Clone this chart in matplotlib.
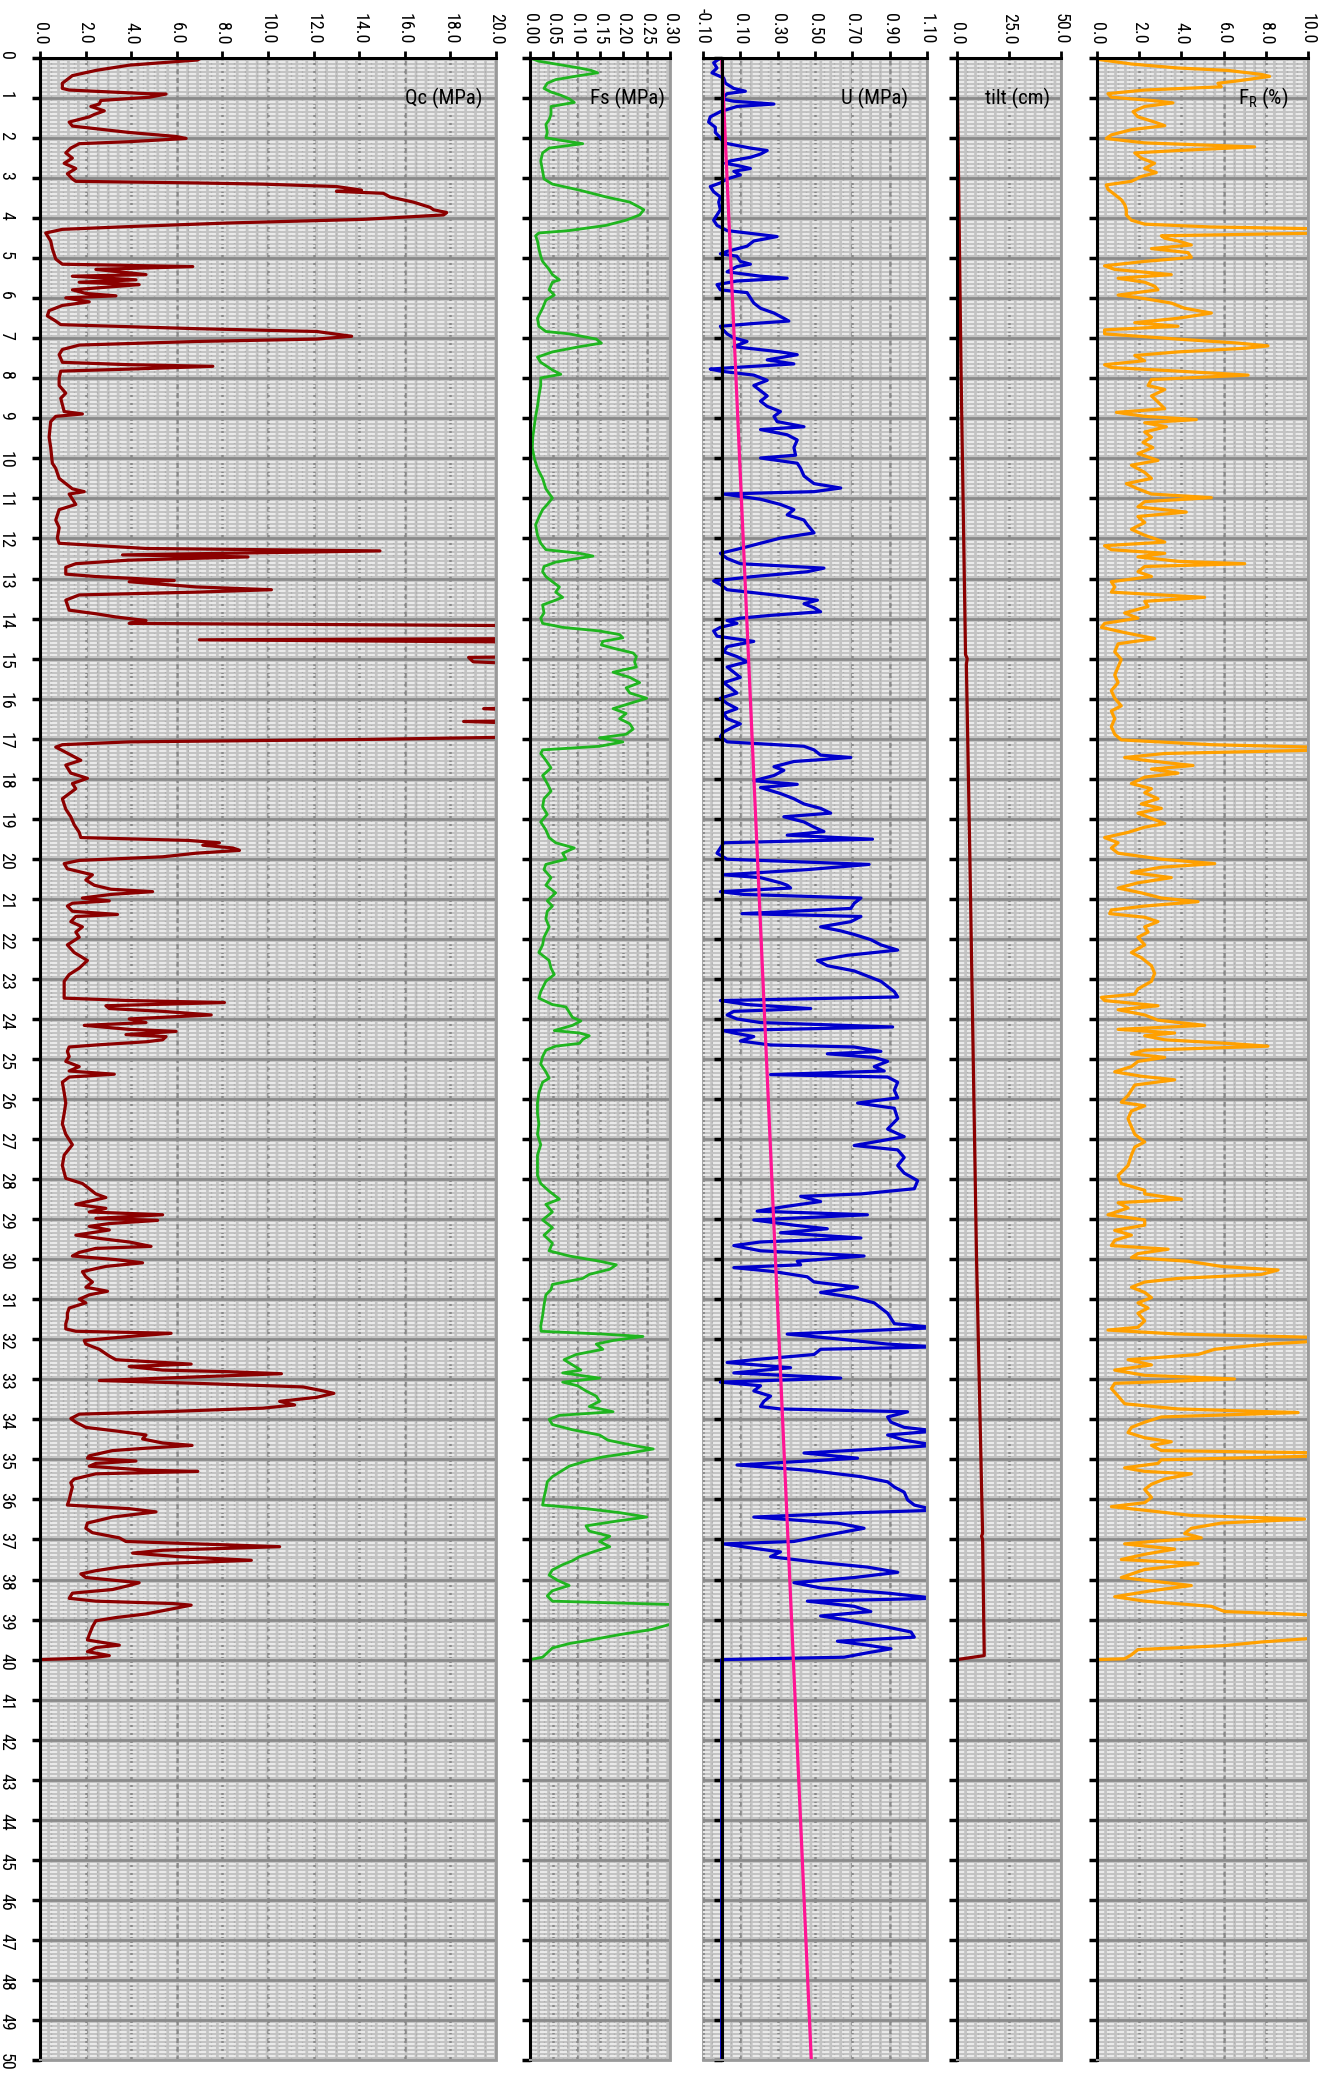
import matplotlib
matplotlib.use("Agg")
import matplotlib.pyplot as plt
import matplotlib.transforms as mtransforms
from matplotlib.ticker import FixedLocator, MultipleLocator

plt.rcParams['font.family'] = ['Roboto Condensed', 'Liberation Sans Narrow', 'Liberation Sans', 'DejaVu Sans']

# ---------------- data (depth m, value) ----------------
qc_readings = [
    (0.00, 7.07), (0.05, 6.9), (0.18, 3.9), (0.31, 2.45), (0.44, 1.42), (0.63, 0.98), (0.76, 0.98), (0.80, 1.28),
    (0.89, 4.65), (0.90, 5.53), (0.98, 4.79), (1.06, 2.67), (1.15, 2.60), (1.21, 2.23), (1.32, 2.82),
    (1.41, 2.38), (1.47, 2.16), (1.60, 1.28), (1.70, 1.42), (1.86, 3.91), (1.96, 5.97), (2.01, 6.41),
    (2.09, 3.91), (2.14, 1.72), (2.25, 1.35), (2.37, 1.13), (2.50, 1.42), (2.63, 1.06), (2.76, 1.57),
    (2.89, 1.20), (3.02, 1.42), (3.08, 1.57), (3.12, 6.85), (3.15, 9.78), (3.21, 13.0), (3.30, 14.1),
    (3.33, 13.0), (3.38, 15.06), (3.47, 15.35), (3.60, 16.38), (3.73, 17.11), (3.79, 17.26),
    (3.86, 17.84), (3.92, 17.70), (4.03, 14.18), (4.12, 8.31), (4.21, 3.91), (4.28, 0.98), (4.37, 0.25),
    (4.57, 0.47), (4.76, 0.54), (5.02, 0.69), (5.15, 0.98), (5.21, 6.70), (5.28, 2.45), (5.41, 4.65),
    (5.45, 1.42), (5.54, 4.21), (5.60, 1.72), (5.66, 4.35), (5.79, 1.42), (5.88, 2.01), (5.94, 3.33),
    (5.99, 1.13), (6.09, 2.16), (6.18, 0.98), (6.31, 0.40), (6.44, 0.32), (6.57, 0.69), (6.66, 0.91),
    (6.76, 6.85), (6.83, 12.13), (6.95, 13.67), (7.02, 12.13), (7.08, 6.85), (7.17, 1.72), (7.28, 0.98),
    (7.41, 0.84), (7.60, 0.98), (7.66, 3.91), (7.70, 7.58), (7.77, 3.91), (7.82, 0.91), (7.99, 0.84),
    (8.18, 0.84), (8.37, 1.13), (8.50, 0.91), (8.83, 1.06), (8.89, 1.86), (8.95, 0.69), (9.08, 0.47),
    (9.47, 0.40), (9.73, 0.47), (10.12, 0.54), (10.25, 0.69), (10.50, 0.84), (10.76, 1.42),
    (10.83, 1.94), (10.89, 1.28), (11.15, 1.57), (11.28, 0.84), (11.54, 0.69), (11.73, 0.84),
    (11.99, 0.76), (12.12, 0.84), (12.25, 4.65), (12.31, 14.91), (12.37, 8.31), (12.41, 3.62),
    (12.46, 9.12), (12.54, 3.91), (12.63, 1.57), (12.72, 1.13), (12.89, 1.13), (12.95, 2.45),
    (13.05, 5.89), (13.08, 3.91), (13.21, 6.85), (13.28, 10.15), (13.34, 6.85), (13.41, 1.72),
    (13.54, 1.13), (13.79, 1.28), (13.88, 2.45), (13.96, 3.33), (14.05, 4.65), (14.12, 3.91),
    (14.18, 22.0), (14.50, 22.0), (14.53, 6.99), (14.59, 22.0), (14.95, 22.0), (14.97, 18.8),
    (15.08, 19.0), (15.15, 22.0), (16.22, 22.0), (16.25, 19.46), (16.31, 22.0), (16.55, 22.0),
    (16.57, 18.58), (16.63, 22.0), (16.95, 22.0), (17.02, 14.18), (17.08, 3.91), (17.15, 0.98),
    (17.21, 0.69), (17.34, 1.13), (17.54, 1.79), (17.66, 1.13), (17.86, 1.35), (17.99, 2.08),
    (18.12, 1.42), (18.25, 1.57), (18.50, 0.98), (18.76, 1.13), (18.95, 1.35), (19.15, 1.50),
    (19.34, 1.72), (19.47, 1.79), (19.54, 6.48), (19.60, 7.87), (19.66, 7.14), (19.73, 8.46),
    (19.79, 8.75), (19.86, 6.85), (19.95, 5.38), (20.04, 1.72), (20.12, 1.06), (20.25, 1.20),
    (20.40, 2.30), (20.53, 2.01), (20.66, 2.38), (20.76, 3.11), (20.82, 4.94), (20.89, 3.11),
    (20.98, 1.86), (21.05, 3.04), (21.11, 1.42), (21.18, 1.20), (21.31, 1.42), (21.39, 3.40),
    (21.44, 1.57), (21.57, 1.35), (21.70, 1.86), (21.83, 1.57), (21.96, 1.72), (22.15, 1.20),
    (22.34, 1.50), (22.54, 2.08), (22.73, 1.72), (22.89, 1.28), (23.06, 1.06), (23.25, 1.06),
    (23.48, 1.06), (23.54, 3.91), (23.59, 8.09), (23.67, 2.89), (23.74, 3.04), (23.81, 5.38),
    (23.90, 7.51), (24.00, 3.91), (24.09, 4.65), (24.16, 1.94), (24.26, 3.91), (24.31, 5.97),
    (24.39, 3.77), (24.44, 5.53), (24.52, 5.38), (24.57, 4.65), (24.65, 2.45), (24.70, 1.28),
    (24.81, 1.20), (24.94, 1.28), (25.06, 1.13), (25.19, 1.72), (25.30, 1.28), (25.38, 3.26),
    (25.43, 1.86), (25.45, 1.28), (25.58, 0.98), (25.84, 1.06), (26.10, 1.13), (26.36, 1.06),
    (26.62, 0.98), (26.88, 1.13), (27.14, 1.42), (27.40, 1.06), (27.66, 0.98), (27.98, 1.13),
    (28.11, 1.86), (28.24, 2.16), (28.37, 2.45), (28.46, 2.89), (28.63, 1.57), (28.73, 2.89),
    (28.82, 2.16), (28.89, 5.38), (28.98, 2.45), (29.03, 5.16), (29.11, 3.04), (29.18, 2.16),
    (29.27, 3.04), (29.40, 1.57), (29.49, 2.74), (29.57, 3.91), (29.68, 4.87), (29.73, 2.45),
    (29.83, 1.72), (29.92, 1.42), (30.01, 3.33), (30.09, 4.50), (30.18, 2.89), (30.31, 1.86),
    (30.44, 2.01), (30.57, 2.30), (30.70, 2.01), (30.80, 2.96), (30.89, 2.16), (31.00, 1.72),
    (31.09, 2.01), (31.22, 1.28), (31.35, 1.20), (31.48, 1.20), (31.61, 1.13), (31.74, 1.13),
    (31.80, 1.57), (31.85, 5.75), (31.93, 3.91), (32.03, 1.94), (32.12, 2.01), (32.25, 2.60),
    (32.42, 3.04), (32.51, 3.33), (32.58, 5.38), (32.62, 6.63), (32.68, 3.91), (32.77, 5.38),
    (32.81, 8.31), (32.86, 10.59), (32.94, 6.85), (33.03, 2.60), (33.10, 6.85), (33.19, 11.54),
    (33.29, 12.42), (33.35, 12.89), (33.45, 12.13), (33.55, 10.51), (33.64, 11.17), (33.72, 9.78),
    (33.81, 5.38), (33.87, 1.72), (33.98, 1.35), (34.07, 1.57), (34.20, 2.01), (34.29, 3.33),
    (34.39, 4.65), (34.49, 4.50), (34.59, 5.38), (34.65, 6.67), (34.72, 4.65), (34.78, 3.18),
    (34.91, 2.16), (34.97, 2.08), (35.04, 4.21), (35.10, 2.45), (35.17, 2.16), (35.27, 4.65),
    (35.30, 6.92), (35.36, 2.45), (35.49, 1.50), (35.58, 1.35), (35.69, 1.42), (35.84, 1.35),
    (36.01, 1.28), (36.14, 1.20), (36.23, 3.91), (36.31, 5.09), (36.44, 3.18), (36.59, 2.08),
    (36.72, 2.01), (36.83, 2.30), (36.96, 3.48), (37.05, 3.77), (37.11, 6.85), (37.18, 10.51),
    (37.27, 5.38), (37.34, 4.06), (37.43, 6.11), (37.52, 9.27), (37.60, 5.38), (37.69, 3.48),
    (37.78, 2.45), (37.86, 1.79), (37.95, 2.01), (38.08, 4.35), (38.15, 3.91), (38.25, 3.18),
    (38.34, 1.42), (38.47, 1.28), (38.54, 2.45), (38.60, 5.82), (38.64, 6.63), (38.73, 5.82),
    (38.86, 4.65), (38.95, 3.33), (39.03, 2.45), (39.18, 2.30), (39.38, 2.16), (39.51, 2.08),
    (39.64, 3.48), (39.70, 2.45), (39.80, 2.08), (39.90, 3.04), (39.96, 2.16), (40.00, 0.0), (50.0, 0.0),
]

fs_readings = [
    (0.00, 0.0), (0.08, 0.019), (0.15, 0.055), (0.25, 0.106), (0.31, 0.131), (0.37, 0.145),
    (0.44, 0.106), (0.54, 0.055), (0.63, 0.037), (0.76, 0.030), (0.85, 0.045), (0.93, 0.066),
    (1.02, 0.084), (1.11, 0.095), (1.21, 0.045), (1.41, 0.045), (1.54, 0.041), (1.66, 0.034),
    (1.86, 0.037), (1.99, 0.034), (2.05, 0.063), (2.14, 0.113), (2.25, 0.041), (2.37, 0.027),
    (2.57, 0.023), (2.83, 0.027), (3.02, 0.030), (3.15, 0.048), (3.30, 0.106), (3.47, 0.163),
    (3.60, 0.214), (3.73, 0.235), (3.79, 0.244), (3.92, 0.235), (4.05, 0.206), (4.18, 0.163),
    (4.31, 0.084), (4.37, 0.019), (4.44, 0.012), (4.57, 0.016), (4.76, 0.019), (4.95, 0.023),
    (5.08, 0.027), (5.28, 0.041), (5.41, 0.048), (5.54, 0.063), (5.60, 0.048), (5.79, 0.041),
    (5.92, 0.052), (6.05, 0.034), (6.25, 0.027), (6.50, 0.016), (6.70, 0.019), (6.83, 0.034),
    (6.89, 0.084), (7.02, 0.142), (7.12, 0.153), (7.21, 0.106), (7.34, 0.048), (7.47, 0.016),
    (7.60, 0.023), (7.79, 0.048), (7.90, 0.066), (7.99, 0.023), (8.18, 0.023), (8.44, 0.019),
    (8.70, 0.016), (8.95, 0.012), (9.21, 0.009), (9.47, 0.006), (9.73, 0.005), (9.99, 0.009),
    (10.25, 0.016), (10.50, 0.027), (10.76, 0.034), (10.99, 0.048), (11.15, 0.037), (11.28, 0.027),
    (11.47, 0.019), (11.66, 0.012), (11.92, 0.016), (12.12, 0.023), (12.28, 0.034), (12.37, 0.106),
    (12.44, 0.135), (12.50, 0.102), (12.59, 0.055), (12.70, 0.030), (12.83, 0.027), (12.95, 0.034),
    (13.08, 0.048), (13.21, 0.063), (13.34, 0.055), (13.47, 0.070), (13.57, 0.048), (13.66, 0.027),
    (13.86, 0.030), (13.99, 0.023), (14.12, 0.027), (14.22, 0.070), (14.31, 0.149), (14.40, 0.192),
    (14.48, 0.199), (14.57, 0.156), (14.66, 0.153), (14.76, 0.185), (14.86, 0.221), (14.95, 0.228),
    (15.08, 0.224), (15.21, 0.228), (15.34, 0.178), (15.47, 0.214), (15.60, 0.235), (15.73, 0.206),
    (15.86, 0.214), (15.99, 0.250), (16.12, 0.214), (16.25, 0.178), (16.37, 0.206), (16.50, 0.192),
    (16.63, 0.214), (16.76, 0.221), (16.89, 0.206), (16.98, 0.149), (17.08, 0.199), (17.19, 0.149),
    (17.28, 0.027), (17.37, 0.023), (17.54, 0.034), (17.73, 0.045), (17.92, 0.027), (18.12, 0.037),
    (18.31, 0.045), (18.50, 0.030), (18.70, 0.027), (18.89, 0.037), (19.08, 0.023), (19.28, 0.034),
    (19.47, 0.041), (19.60, 0.055), (19.73, 0.095), (19.86, 0.070), (20.01, 0.077), (20.14, 0.034),
    (20.27, 0.030), (20.47, 0.045), (20.66, 0.034), (20.85, 0.055), (21.05, 0.037), (21.18, 0.048),
    (21.31, 0.037), (21.50, 0.034), (21.70, 0.041), (21.96, 0.030), (22.15, 0.027), (22.34, 0.019),
    (22.54, 0.041), (22.73, 0.045), (22.89, 0.052), (23.06, 0.034), (23.32, 0.023), (23.48, 0.019),
    (23.64, 0.048), (23.70, 0.077), (23.83, 0.084), (23.96, 0.091), (24.05, 0.109), (24.16, 0.091),
    (24.29, 0.052), (24.35, 0.106), (24.42, 0.127), (24.51, 0.113), (24.61, 0.106), (24.68, 0.055),
    (24.78, 0.034), (24.94, 0.027), (25.13, 0.023), (25.32, 0.034), (25.48, 0.041), (25.58, 0.027),
    (25.84, 0.019), (26.10, 0.016), (26.36, 0.016), (26.62, 0.019), (26.88, 0.016), (27.14, 0.023),
    (27.40, 0.016), (27.66, 0.016), (27.91, 0.016), (28.11, 0.023), (28.30, 0.041), (28.50, 0.063),
    (28.63, 0.034), (28.82, 0.048), (29.02, 0.027), (29.21, 0.048), (29.40, 0.030), (29.60, 0.048),
    (29.79, 0.041), (29.92, 0.084), (30.05, 0.149), (30.14, 0.185), (30.25, 0.171), (30.38, 0.127),
    (30.48, 0.113), (30.63, 0.048), (30.76, 0.045), (30.89, 0.034), (31.15, 0.030), (31.41, 0.027),
    (31.67, 0.023), (31.80, 0.024), (31.87, 0.156), (31.93, 0.242), (32.03, 0.178), (32.12, 0.142),
    (32.25, 0.156), (32.38, 0.099), (32.51, 0.073), (32.64, 0.091), (32.77, 0.109), (32.84, 0.070),
    (32.97, 0.149), (33.07, 0.070), (33.16, 0.102), (33.29, 0.120), (33.42, 0.142), (33.55, 0.149),
    (33.68, 0.127), (33.81, 0.178), (33.90, 0.063), (34.00, 0.041), (34.13, 0.048), (34.26, 0.091),
    (34.39, 0.149), (34.52, 0.167), (34.65, 0.221), (34.74, 0.264), (34.84, 0.214), (34.94, 0.156),
    (35.04, 0.120), (35.17, 0.084), (35.30, 0.066), (35.43, 0.048), (35.56, 0.037), (35.75, 0.034),
    (35.95, 0.030), (36.14, 0.027), (36.23, 0.120), (36.33, 0.192), (36.44, 0.250), (36.53, 0.192),
    (36.66, 0.120), (36.79, 0.127), (36.92, 0.171), (37.05, 0.149), (37.18, 0.171), (37.31, 0.135),
    (37.43, 0.106), (37.53, 0.091), (37.63, 0.070), (37.76, 0.048), (37.89, 0.041), (38.02, 0.059),
    (38.15, 0.084), (38.28, 0.048), (38.41, 0.037), (38.54, 0.048), (38.64, 0.35), (38.80, 0.36),
    (39.06, 0.34), (39.12, 0.30), (39.25, 0.26), (39.38, 0.19), (39.51, 0.13), (39.60, 0.084),
    (39.71, 0.048), (39.94, 0.027), (40.00, 0.0), (50.0, 0.0),
]

u_readings = [
    (0.00, -0.007), (0.12, -0.043), (0.25, -0.025), (0.37, -0.052), (0.50, 0.011), (0.63, 0.020),
    (0.76, 0.065), (0.83, 0.127), (0.89, 0.029), (1.02, 0.002), (1.08, 0.065), (1.15, 0.280),
    (1.21, 0.082), (1.34, -0.007), (1.47, -0.061), (1.60, -0.070), (1.73, -0.034), (1.86, -0.034),
    (1.99, -0.007), (2.12, 0.011), (2.25, 0.154), (2.31, 0.244), (2.40, 0.208), (2.48, 0.154),
    (2.57, 0.047), (2.63, 0.020), (2.70, 0.100), (2.76, 0.154), (2.83, 0.065), (2.92, 0.100),
    (3.02, 0.029), (3.12, -0.007), (3.21, -0.061), (3.34, -0.043), (3.47, -0.007), (3.60, -0.016),
    (3.79, -0.007), (3.92, -0.025), (4.05, -0.043), (4.18, -0.025), (4.31, 0.029), (4.41, 0.208),
    (4.46, 0.297), (4.57, 0.172), (4.70, 0.136), (4.83, 0.029), (4.89, -0.007), (4.95, 0.082),
    (5.08, 0.100), (5.15, 0.154), (5.21, 0.082), (5.34, 0.029), (5.45, 0.208), (5.50, 0.351),
    (5.57, 0.082), (5.66, -0.025), (5.79, -0.007), (5.86, 0.136), (5.99, 0.154), (6.12, 0.172),
    (6.25, 0.208), (6.37, 0.280), (6.50, 0.333), (6.57, 0.360), (6.63, 0.172), (6.70, -0.007),
    (6.76, 0.002), (6.89, 0.029), (6.99, 0.065), (7.08, 0.136), (7.21, 0.065), (7.34, 0.315),
    (7.41, 0.405), (7.54, 0.244), (7.64, 0.387), (7.73, 0.065), (7.77, -0.061), (7.82, -0.007),
    (7.92, 0.172), (8.05, 0.244), (8.18, 0.172), (8.31, 0.208), (8.44, 0.244), (8.57, 0.208),
    (8.70, 0.244), (8.83, 0.315), (8.95, 0.280), (9.08, 0.297), (9.21, 0.441), (9.28, 0.208),
    (9.41, 0.351), (9.54, 0.405), (9.73, 0.387), (9.92, 0.396), (9.99, 0.208), (10.12, 0.405),
    (10.25, 0.423), (10.44, 0.441), (10.63, 0.495), (10.74, 0.638), (10.83, 0.495), (10.89, 0.011),
    (11.02, 0.208), (11.15, 0.315), (11.28, 0.387), (11.41, 0.351), (11.54, 0.441), (11.66, 0.459),
    (11.86, 0.495), (11.99, 0.315), (12.12, 0.208), (12.25, 0.100), (12.37, -0.007), (12.50, 0.029),
    (12.63, 0.100), (12.74, 0.548), (12.83, 0.459), (12.95, 0.172), (13.06, -0.043), (13.15, -0.007),
    (13.28, 0.029), (13.41, 0.280), (13.54, 0.513), (13.63, 0.441), (13.73, 0.495), (13.83, 0.530),
    (13.92, 0.262), (13.99, 0.100), (14.05, 0.029), (14.12, 0.082), (14.22, -0.007), (14.31, -0.043),
    (14.44, -0.025), (14.57, 0.172), (14.70, 0.029), (14.83, 0.011), (14.95, 0.082), (15.08, 0.136),
    (15.21, 0.029), (15.34, 0.065), (15.47, 0.100), (15.60, 0.011), (15.73, 0.047), (15.86, 0.082),
    (15.99, -0.007), (16.12, 0.029), (16.25, 0.082), (16.37, 0.011), (16.50, 0.029), (16.63, 0.100),
    (16.70, 0.065), (16.83, 0.011), (16.95, -0.007), (17.08, 0.029), (17.19, 0.441), (17.28, 0.495),
    (17.41, 0.530), (17.47, 0.692), (17.57, 0.387), (17.70, 0.280), (17.79, 0.333), (17.92, 0.280),
    (18.05, 0.172), (18.14, 0.405), (18.22, 0.208), (18.37, 0.315), (18.50, 0.387), (18.63, 0.441),
    (18.74, 0.530), (18.86, 0.584), (18.95, 0.333), (19.08, 0.441), (19.21, 0.495), (19.32, 0.548),
    (19.41, 0.351), (19.51, 0.808), (19.60, 0.011), (19.73, -0.007), (19.86, -0.025), (20.01, 0.029),
    (20.14, 0.790), (20.27, 0.459), (20.40, 0.011), (20.47, 0.208), (20.60, 0.315), (20.66, 0.351),
    (20.73, 0.369), (20.82, -0.007), (20.89, 0.118), (20.98, 0.746), (21.11, 0.710), (21.24, 0.692),
    (21.37, 0.109), (21.44, 0.746), (21.57, 0.692), (21.70, 0.530), (21.80, 0.638), (21.89, 0.710),
    (22.02, 0.799), (22.15, 0.853), (22.28, 0.943), (22.41, 0.674), (22.54, 0.513), (22.67, 0.566),
    (22.80, 0.710), (22.93, 0.781), (23.06, 0.853), (23.19, 0.889), (23.32, 0.925), (23.45, 0.943),
    (23.54, -0.007), (23.64, 0.136), (23.74, 0.477), (23.81, 0.065), (23.90, 0.029), (24.00, 0.082),
    (24.09, 0.208), (24.20, 0.916), (24.29, 0.011), (24.35, 0.065), (24.44, 0.172), (24.55, 0.100),
    (24.65, 0.262), (24.70, 0.710), (24.81, 0.853), (24.87, 0.566), (24.96, 0.817), (25.06, 0.889),
    (25.19, 0.817), (25.30, 0.871), (25.39, 0.262), (25.45, 0.889), (25.58, 0.943), (25.78, 0.925),
    (25.97, 0.943), (26.10, 0.728), (26.23, 0.925), (26.49, 0.943), (26.75, 0.889), (26.94, 0.978),
    (27.16, 0.710), (27.27, 0.943), (27.46, 0.978), (27.66, 0.943), (27.85, 0.978), (28.04, 1.050),
    (28.24, 1.032), (28.37, 0.746), (28.43, 0.423), (28.56, 0.530), (28.69, 0.333), (28.80, 0.190),
    (28.89, 0.781), (29.02, 0.172), (29.15, 0.387), (29.24, 0.566), (29.34, 0.315), (29.47, 0.746),
    (29.57, 0.208), (29.66, 0.065), (29.79, 0.208), (29.92, 0.763), (30.05, 0.405), (30.14, 0.423),
    (30.21, 0.065), (30.31, 0.280), (30.44, 0.459), (30.57, 0.495), (30.70, 0.728), (30.83, 0.530),
    (30.96, 0.710), (31.09, 0.817), (31.22, 0.853), (31.35, 0.889), (31.48, 0.907), (31.61, 0.925),
    (31.71, 1.15), (31.77, 0.853), (31.87, 0.351), (31.99, 0.620), (32.12, 0.889), (32.19, 1.15),
    (32.25, 0.530), (32.38, 0.495), (32.51, 0.172), (32.58, 0.029), (32.71, 0.369), (32.84, 0.065),
    (32.97, 0.638), (33.07, -0.007), (33.16, 0.208), (33.29, 0.172), (33.42, 0.262), (33.55, 0.226),
    (33.68, 0.208), (33.74, 0.315), (33.81, 0.996), (33.94, 0.889), (34.07, 0.907), (34.20, 0.978),
    (34.29, 1.15), (34.39, 0.889), (34.52, 0.978), (34.65, 1.15), (34.75, 0.799), (34.84, 0.441),
    (34.97, 0.728), (35.14, 0.082), (35.27, 0.459), (35.43, 0.746), (35.56, 0.889), (35.69, 0.925),
    (35.82, 0.978), (36.01, 0.996), (36.14, 1.032), (36.27, 1.15), (36.33, 0.728), (36.44, 0.172),
    (36.59, 0.620), (36.72, 0.763), (36.92, 0.530), (37.05, 0.387), (37.11, 0.011), (37.22, 0.172),
    (37.31, 0.315), (37.43, 0.262), (37.56, 0.495), (37.69, 0.781), (37.82, 0.943), (37.95, 0.710),
    (38.08, 0.387), (38.21, 0.530), (38.34, 0.889), (38.47, 1.15), (38.54, 0.459), (38.67, 0.710),
    (38.80, 0.799), (38.91, 0.530), (39.04, 0.710), (39.19, 0.889), (39.31, 1.014), (39.44, 1.032),
    (39.54, 0.620), (39.64, 0.781), (39.73, 0.907), (39.83, 0.781), (39.94, 0.656), (40.00, 0.0),
    (50.0, 0.0),
]

u0_depth = [0.0, 50.0]
u0_value = [0.0, 0.48]

tilt_depth = [0.0, 8.0, 14.9, 15.0, 15.15, 20.0, 30.0, 36.85, 36.92, 37.0, 39.9, 40.0, 50.0]
tilt_value = [0.0, 2.0, 4.1, 4.9, 4.5, 6.2, 9.4, 12.3, 11.8, 12.3, 13.1, 0.0, 0.0]

fr_readings = [
    (0.03, 0.0), (0.08, 0.68), (0.15, 1.63), (0.25, 3.84), (0.31, 6.21), (0.41, 7.79), (0.46, 8.18),
    (0.57, 6.68), (0.63, 5.73), (0.72, 5.89), (0.80, 2.26), (0.89, 0.52), (0.98, 0.68), (1.06, 2.58),
    (1.12, 3.60), (1.21, 2.26), (1.34, 1.71), (1.47, 1.94), (1.60, 2.73), (1.69, 3.21), (1.79, 1.63),
    (1.92, 0.68), (2.01, 0.44), (2.12, 2.26), (2.18, 5.42), (2.22, 7.47), (2.31, 3.84), (2.37, 1.79),
    (2.50, 2.10), (2.63, 2.73), (2.76, 2.26), (2.86, 2.81), (2.96, 2.10), (3.08, 1.63), (3.17, 0.44),
    (3.28, 0.52), (3.41, 0.84), (3.54, 1.15), (3.66, 1.31), (3.79, 1.39), (3.92, 1.39), (4.05, 1.63),
    (4.15, 2.26), (4.22, 5.42), (4.27, 11.0), (4.37, 11.0), (4.44, 3.05), (4.50, 3.21), (4.57, 3.84),
    (4.67, 4.47), (4.76, 2.58), (4.86, 4.31), (4.98, 4.47), (5.08, 2.26), (5.19, 0.36), (5.28, 0.84),
    (5.41, 3.52), (5.50, 1.00), (5.60, 2.26), (5.70, 2.73), (5.79, 2.89), (5.92, 1.00), (6.01, 2.26),
    (6.12, 3.52), (6.25, 4.15), (6.37, 5.42), (6.50, 3.84), (6.61, 1.79), (6.70, 3.84), (6.79, 0.36),
    (6.89, 0.36), (7.02, 3.84), (7.12, 6.68), (7.19, 8.10), (7.25, 7.00), (7.34, 3.84), (7.43, 1.79),
    (7.56, 2.26), (7.66, 0.36), (7.73, 0.68), (7.82, 3.84), (7.92, 7.16), (8.03, 2.58), (8.18, 2.42),
    (8.28, 3.21), (8.44, 2.58), (8.59, 2.89), (8.76, 3.21), (8.85, 0.92), (8.95, 2.26), (9.03, 4.71),
    (9.11, 2.26), (9.21, 3.29), (9.34, 2.26), (9.47, 2.58), (9.60, 2.18), (9.73, 2.65), (9.88, 1.94),
    (10.05, 2.89), (10.17, 1.63), (10.35, 2.26), (10.50, 2.58), (10.63, 1.39), (10.76, 1.94),
    (10.89, 2.58), (10.98, 5.42), (11.08, 2.26), (11.21, 1.94), (11.34, 4.23), (11.45, 1.94),
    (11.60, 2.26), (11.77, 1.63), (11.92, 2.26), (12.09, 3.21), (12.18, 0.36), (12.28, 0.68),
    (12.37, 3.21), (12.46, 1.94), (12.57, 3.84), (12.63, 7.00), (12.70, 2.26), (12.83, 1.94),
    (12.95, 2.58), (13.08, 0.68), (13.21, 0.84), (13.34, 0.68), (13.47, 5.10), (13.57, 2.26),
    (13.70, 2.42), (13.86, 1.31), (13.99, 1.94), (14.12, 0.36), (14.22, 0.21), (14.35, 1.31),
    (14.50, 2.73), (14.63, 1.00), (14.83, 0.84), (15.02, 1.15), (15.21, 1.00), (15.41, 0.84),
    (15.60, 1.00), (15.80, 0.68), (15.99, 0.84), (16.18, 1.15), (16.31, 0.68), (16.50, 0.84),
    (16.70, 0.68), (16.89, 0.84), (17.03, 1.15), (17.15, 5.42), (17.22, 11.0), (17.28, 11.0),
    (17.37, 3.21), (17.47, 1.31), (17.54, 2.26), (17.67, 4.55), (17.76, 2.58), (17.86, 3.84),
    (17.96, 2.26), (18.12, 1.63), (18.25, 2.58), (18.35, 2.26), (18.50, 2.89), (18.63, 2.10),
    (18.74, 3.05), (18.86, 1.94), (18.99, 2.58), (19.12, 3.21), (19.21, 2.26), (19.34, 1.47),
    (19.47, 0.36), (19.60, 1.00), (19.73, 0.68), (19.86, 1.00), (20.01, 3.05), (20.12, 5.58),
    (20.21, 3.05), (20.34, 1.63), (20.47, 3.52), (20.60, 1.94), (20.73, 1.00), (20.85, 2.10),
    (20.98, 3.05), (21.07, 4.79), (21.18, 2.26), (21.28, 0.68), (21.37, 0.60), (21.46, 2.26),
    (21.57, 2.89), (21.70, 2.26), (21.83, 2.42), (21.96, 1.94), (22.15, 2.26), (22.34, 1.63),
    (22.47, 2.10), (22.67, 2.58), (22.86, 2.73), (23.06, 2.58), (23.25, 1.94), (23.38, 1.79),
    (23.46, 0.21), (23.54, 0.36), (23.67, 2.89), (23.77, 1.00), (23.90, 2.26), (24.03, 2.89),
    (24.16, 5.10), (24.26, 1.00), (24.35, 3.68), (24.42, 2.26), (24.52, 3.21), (24.61, 6.21),
    (24.68, 8.10), (24.78, 2.26), (24.87, 1.63), (24.96, 3.21), (25.06, 1.94), (25.19, 1.63),
    (25.32, 0.84), (25.43, 2.10), (25.52, 3.68), (25.65, 1.79), (25.78, 1.63), (25.91, 1.47),
    (26.08, 1.15), (26.17, 2.26), (26.30, 1.63), (26.49, 1.47), (26.69, 1.63), (26.88, 1.79),
    (27.07, 2.26), (27.20, 1.79), (27.40, 1.63), (27.66, 1.47), (27.91, 1.00), (28.11, 1.15),
    (28.28, 2.26), (28.37, 2.26), (28.50, 4.00), (28.59, 1.00), (28.72, 1.47), (28.89, 0.52),
    (29.02, 2.26), (29.15, 2.26), (29.28, 0.84), (29.40, 1.63), (29.53, 0.84), (29.66, 0.68),
    (29.75, 3.37), (29.86, 1.94), (29.96, 1.63), (30.05, 4.31), (30.18, 5.89), (30.27, 8.58),
    (30.38, 7.79), (30.48, 3.84), (30.57, 2.26), (30.70, 1.63), (30.83, 2.26), (30.96, 2.58),
    (31.09, 1.94), (31.22, 2.42), (31.35, 1.94), (31.54, 2.26), (31.70, 1.94), (31.77, 0.52),
    (31.87, 3.84), (31.96, 11.0), (32.03, 11.0), (32.12, 8.10), (32.25, 5.58), (32.38, 4.79),
    (32.51, 1.47), (32.64, 2.58), (32.77, 0.84), (32.90, 2.26), (32.99, 6.52), (33.10, 0.84),
    (33.23, 0.68), (33.42, 1.00), (33.61, 1.31), (33.74, 3.84), (33.83, 9.53), (33.94, 3.05),
    (34.07, 2.26), (34.20, 1.63), (34.33, 1.47), (34.46, 2.26), (34.56, 3.52), (34.65, 2.58),
    (34.78, 3.05), (34.84, 11.0), (34.91, 11.0), (35.01, 3.05), (35.10, 2.89), (35.21, 1.31),
    (35.30, 2.26), (35.36, 4.47), (35.49, 3.21), (35.62, 2.58), (35.75, 2.26), (35.95, 2.58),
    (36.08, 2.26), (36.18, 0.68), (36.27, 2.26), (36.40, 4.47), (36.49, 9.84), (36.59, 5.89),
    (36.72, 4.47), (36.85, 4.15), (36.96, 4.94), (37.05, 2.58), (37.11, 1.31), (37.24, 3.68),
    (37.37, 2.26), (37.50, 1.15), (37.60, 4.79), (37.75, 2.26), (37.95, 1.15), (38.15, 4.47),
    (38.28, 2.58), (38.43, 0.84), (38.54, 2.26), (38.67, 5.42), (38.80, 6.05), (38.90, 11.0),
    (39.44, 11.0), (39.56, 7.79), (39.65, 6.05), (39.75, 1.94), (39.88, 1.63), (39.98, 1.31),
    (40.00, 0.0), (50.0, 0.0),
]

qc_ticks = [0, 2, 4, 6, 8, 10, 12, 14, 16, 18, 20]
fs_ticks = [0.0, 0.05, 0.10, 0.15, 0.20, 0.25, 0.30]
u_ticks = [-0.1, 0.1, 0.3, 0.5, 0.7, 0.9, 1.1]
tilt_ticks = [0, 25, 50]
fr_ticks = [0, 2, 4, 6, 8, 10]
depth_ticks = list(range(0, 51))

# ---------------- figure ----------------
W, H = 1319, 2092
fig = plt.figure(figsize=(W / 100, H / 100), dpi=100)
TOP, BOT = 58, 2060


def make_ax(x0, x1):
    return fig.add_axes([x0 / W, 1 - BOT / H, (x1 - x0) / W, (BOT - TOP) / H])


def style(ax, xlim, ticks, minor_step, fmt, show_depth=False):
    ax.set_xlim(*xlim)
    ax.set_ylim(50, 0)
    ax.set_facecolor('#c3c3c3')
    ax.patch.set_edgecolor('#9a9a9a')
    ax.patch.set_linewidth(2.0)
    ax.xaxis.set_major_locator(FixedLocator(ticks))
    ax.xaxis.set_minor_locator(MultipleLocator(minor_step))
    ax.yaxis.set_major_locator(FixedLocator(depth_ticks))
    ax.yaxis.set_minor_locator(MultipleLocator(0.1))
    ax.set_xticklabels([fmt.format(t) for t in ticks])
    ax.grid(which='minor', axis='y', color='#efefef', lw=1.3, ls=(0, (4, 1.5)))
    ax.grid(which='minor', axis='x', color='#b0b0b0', lw=1.0, ls=(0, (1.5, 1.5)))
    ax.grid(which='major', axis='y', color='#8a8a8a', lw=2.0)
    ax.grid(which='major', axis='x', color='#8a8a8a', lw=1.8, ls=(0, (2, 1.5)))
    ax.set_axisbelow(True)
    ax.xaxis.tick_top()
    ax.tick_params(axis='x', which='major', direction='out', length=5, width=2,
                   color='black', labelsize=13, labelrotation=-90, pad=5)
    ax.tick_params(which='minor', length=0)
    ax.tick_params(axis='y', which='major', direction='out', length=6, width=2.5,
                   color='black', labelleft=show_depth, labelsize=13,
                   labelrotation=-90, pad=12)
    for s in ('top', 'left'):
        ax.spines[s].set_color('black')
        ax.spines[s].set_linewidth(2.2)
    for s in ('right', 'bottom'):
        ax.spines[s].set_color('#9a9a9a')
        ax.spines[s].set_linewidth(1.5)


def title(ax, xfrac, text):
    tr = mtransforms.blended_transform_factory(ax.transAxes, ax.transData)
    ax.text(xfrac, 1.0, text, transform=tr, ha='right', va='center', fontsize=15,
            color='black', zorder=5)


# Qc
ax1 = make_ax(40, 496)
style(ax1, (0, 20), qc_ticks, 0.5, '{:.1f}', show_depth=True)
d, v = zip(*qc_readings)
ax1.plot(v, d, color='#8b0000', lw=2.3, solid_joinstyle='round')
title(ax1, 0.97, 'Qc (MPa)')

# Fs
ax2 = make_ax(530, 670)
style(ax2, (0, 0.30), fs_ticks, 0.01, '{:.2f}')
d, v = zip(*fs_readings)
ax2.plot(v, d, color='#1fb51f', lw=2.0)
title(ax2, 0.965, 'Fs (MPa)')

# U
ax3 = make_ax(703, 927)
style(ax3, (-0.1, 1.1), u_ticks, 0.05, '{:.2f}')
ax3.spines['left'].set_position(('data', 0.0))
ax3.spines['left'].set_color('black')
d, v = zip(*u_readings)
ax3.plot(v, d, color='#0000cc', lw=2.3)
ax3.plot(u0_value, u0_depth, color='#ff1493', lw=2.3)
title(ax3, 0.915, 'U (MPa)')

# tilt
ax4 = make_ax(957, 1061)
style(ax4, (0, 50), tilt_ticks, 5, '{:.1f}')
ax4.plot(tilt_value, tilt_depth, color='#8b0000', lw=2.3)
title(ax4, 0.90, 'tilt (cm)')

# FR
ax5 = make_ax(1097, 1308)
style(ax5, (0, 10), fr_ticks, 0.5, '{:.1f}')
d, v = zip(*fr_readings)
ax5.plot(v, d, color='#ffa000', lw=2.3)
title(ax5, 0.905, r'F$_\mathregular{R}$ (%)')

fig.savefig('out.png', dpi=100)
